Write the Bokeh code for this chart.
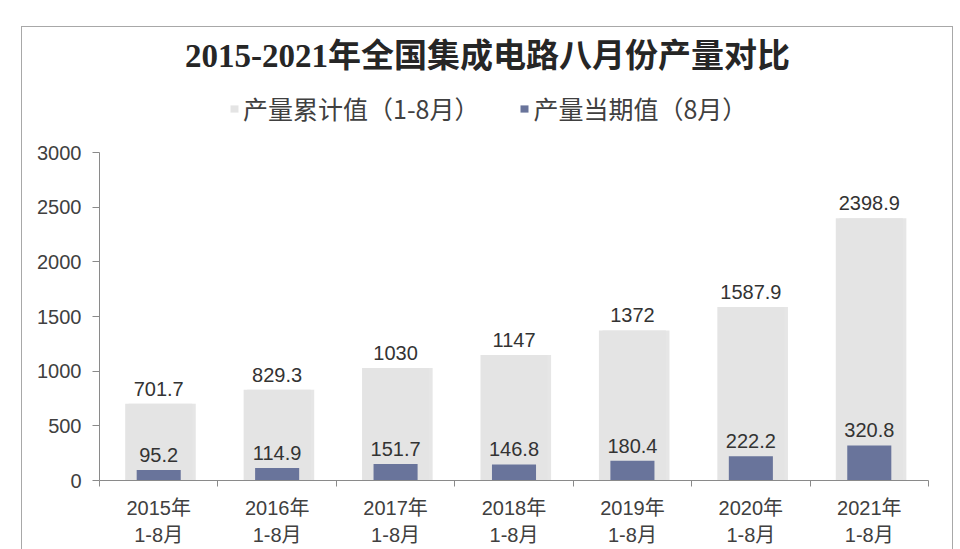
from bokeh.plotting import figure
from bokeh.models import (Range1d, LinearAxis, FixedTicker, Label, Legend, LegendItem,
                          ColumnDataSource)
from bokeh.transform import dodge
from bokeh.core.properties import value
from bokeh.embed import file_html
from bokeh.resources import INLINE

# ---- data ----
years = ["2015年", "2016年", "2017年", "2018年", "2019年", "2020年", "2021年"]
period = "1-8月"
cumulative = [701.7, 829.3, 1030, 1147, 1372, 1587.9, 2398.9]   # 产量累计值（1-8月）
current = [95.2, 114.9, 151.7, 146.8, 180.4, 222.2, 320.8]       # 产量当期值（8月）
yticks = [0, 500, 1000, 1500, 2000, 2500, 3000]
title_text = "2015-2021年全国集成电路八月份产量对比"
series_names = ["产量累计值（1-8月）", "产量当期值（8月）"]

LIGHT = "#e4e4e4"
DARK = "#69749b"
TXT = "#333333"
LATIN = "Liberation Sans, Noto Sans CJK SC"

# layout (pixels)
FRAME_W, FRAME_H = 829, 453          # frame spans from canvas top down to x axis
AXIS_PX = 328                        # pixels used by 0..3000
YMAX = yticks[-1] * FRAME_H / AXIS_PX
PX = yticks[-1] / AXIS_PX            # data units per pixel

xs = [i + 0.5 for i in range(len(years))]
src = ColumnDataSource(dict(
    x=xs,
    cum=cumulative,
    cur=current,
    cum_lbl=[f"{v:g}" for v in cumulative],
    cur_lbl=[f"{v:g}" for v in current],
))

p = figure(frame_width=FRAME_W, frame_height=FRAME_H, output_backend="svg",
           toolbar_location=None, title=None, x_axis_type=None, y_axis_type=None,
           x_range=Range1d(0, len(years)), y_range=Range1d(0, YMAX),
           min_border_left=77, min_border_right=24, min_border_top=0, min_border_bottom=65)
p.outline_line_color = None
p.background_fill_color = "white"
p.border_fill_color = "white"
p.styles = {"margin-left": "21px", "margin-top": "26px",
            "border-left": "1px solid #a8a8a8", "border-top": "1px solid #a8a8a8",
            "border-right": "1px solid #a8a8a8"}

# shadow of light bars
p.vbar(x=dodge("x", 0.03, range=p.x_range), top="cum", width=0.566, bottom=0,
       source=src, fill_color="#c8c8c8", fill_alpha=0.45, line_color=None)
r_cum = p.vbar(x="x", top="cum", width=0.566, bottom=0, source=src,
               fill_color=LIGHT, line_color=None)
r_cur = p.vbar(x="x", top="cur", width=0.372, bottom=0, source=src,
               fill_color=DARK, line_color=None)

p.text(x="x", y="cum", text="cum_lbl", source=src, text_align="center",
       text_baseline="alphabetic", y_offset=-15, text_font=value(LATIN),
       text_font_size="20px", text_color=TXT)
p.text(x="x", y="cur", text="cur_lbl", source=src, text_align="center",
       text_baseline="alphabetic", y_offset=-15, text_font=value(LATIN),
       text_font_size="20px", text_color=TXT)

# y axis (drawn only over 0..3000)
yax = LinearAxis(ticker=FixedTicker(ticks=yticks, minor_ticks=[]),
                 bounds=(yticks[0], yticks[-1]))
yax.axis_line_color = "#8a8a8a"
yax.major_tick_line_color = "#8a8a8a"
yax.major_tick_out = 7
yax.major_tick_in = 0
yax.minor_tick_line_color = None
yax.major_label_standoff = 11
yax.major_label_text_font = LATIN
yax.major_label_text_font_size = "20px"
yax.major_label_text_color = "#404040"
p.add_layout(yax, "left")

# x axis: labels at centres, tick marks at category boundaries
xax = LinearAxis(ticker=FixedTicker(ticks=xs, minor_ticks=list(range(len(years) + 1))))
xax.major_label_overrides = {x: f"{y}\n{period}" for x, y in zip(xs, years)}
xax.axis_line_color = "#8a8a8a"
xax.major_tick_line_color = None
xax.major_tick_out = 6
xax.major_tick_in = 0
xax.minor_tick_line_color = "#8a8a8a"
xax.minor_tick_out = 6
xax.minor_tick_in = 0
xax.major_label_standoff = 10
xax.major_label_text_font = LATIN
xax.major_label_text_font_size = "20px"
xax.major_label_text_line_height = 1.25
xax.major_label_text_color = "#404040"
p.add_layout(xax, "below")

# title
p.add_layout(Label(x=(487 - 99) / FRAME_W * len(years), y=(FRAME_H - 28) * PX, text=title_text,
                   text_align="center", text_baseline="middle",
                   text_font="Liberation Serif, Noto Sans CJK SC",
                   text_font_size="33px", text_font_style="bold", text_color="#262626"))

# legend (location = bottom-left corner, pixels from the frame's bottom-left)
legend = Legend(items=[LegendItem(label=series_names[0], renderers=[r_cum]),
                       LegendItem(label=series_names[1], renderers=[r_cur])],
                orientation="horizontal", location=(130, 354),
                glyph_width=10, glyph_height=9, label_standoff=4, spacing=40,
                padding=0, margin=0, border_line_color=None, background_fill_alpha=0,
                label_text_font="Noto Sans CJK SC", label_text_font_size="25px",
                label_text_color="#404040")
p.add_layout(legend, "center")

open("out.html", "w").write(file_html(p, INLINE))
